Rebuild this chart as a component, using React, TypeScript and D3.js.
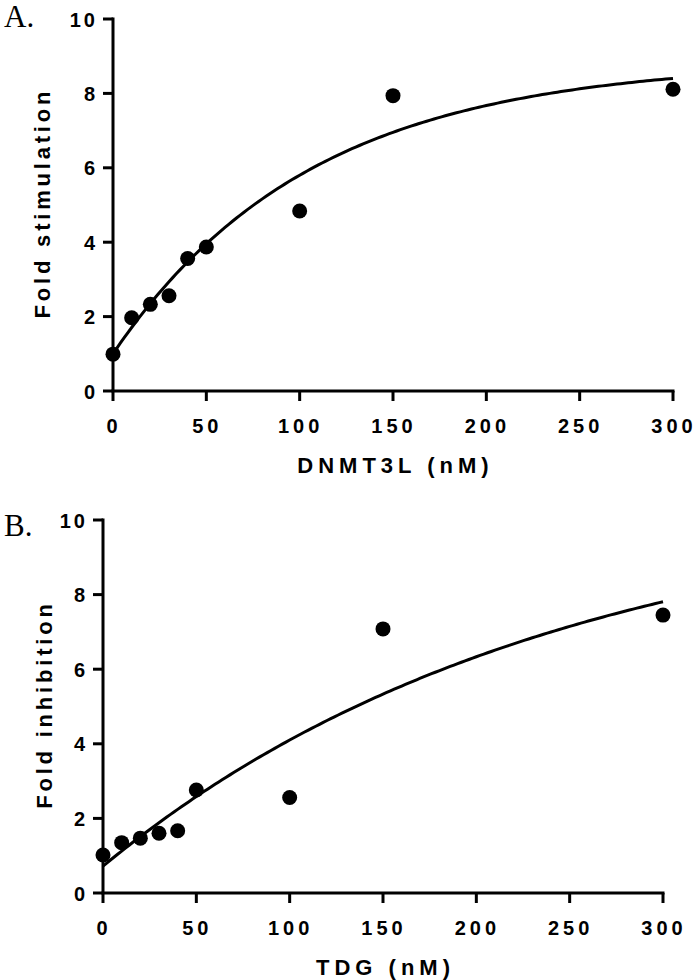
import React from 'react';
import * as d3 from 'd3';

// concentrations (nM)
const doseA = [0, 10, 20, 30, 40, 50, 100, 150, 300];
const stimulation = [0.99, 1.97, 2.33, 2.56, 3.56, 3.87, 4.84, 7.94, 8.11];

const doseB = [0, 10, 20, 30, 40, 50, 100, 150, 300];
const inhibition = [1.02, 1.35, 1.47, 1.6, 1.67, 2.76, 2.56, 7.08, 7.45];

const xTicks = [0, 50, 100, 150, 200, 250, 300];
const yTicks = [0, 2, 4, 6, 8, 10];

// one-phase association fit: y = y0 + span * (1 - exp(-k x))
const fitA = { y0: 1.0, span: 7.87, k: 0.009417 };
const fitB = { y0: 0.72, span: 9.96, k: 0.004146 };

const FONT = '"Liberation Sans", Arial, sans-serif';

type PanelProps = {
  tag: string;
  xLabel: string;
  yLabel: string;
  xs: number[];
  ys: number[];
  fit: { y0: number; span: number; k: number };
  left: number;
  right: number;
  top: number;
  bottom: number;
  tagY: number;
  yLabelX: number;
};

function Panel(props: PanelProps) {
  const { tag, xLabel, yLabel, xs, ys, fit, left, right, top, bottom, tagY, yLabelX } = props;
  const x = d3.scaleLinear().domain([0, 300]).range([left, right]);
  const y = d3.scaleLinear().domain([0, 10]).range([bottom, top]);

  const curveX = d3.range(0, 300.01, 2);
  const line = d3
    .line<number>()
    .x(d => x(d))
    .y(d => y(fit.y0 + fit.span * (1 - Math.exp(-fit.k * d))));

  const tickLen = 10;
  // digit width of bold 20px font plus 4px gaps between digits
  const labelWidth = (t: number) => {
    const n = String(t).length;
    return 11.12 * n + 4 * (n - 1);
  };

  return (
    <g>
      <text x={4} y={tagY} fontFamily='"Liberation Serif", "Times New Roman", serif' fontSize={31}>
        {tag}
      </text>

      {/* axes */}
      <line x1={left} x2={left} y1={top - 1.5} y2={bottom} stroke="#000" strokeWidth={3} />
      <line x1={left - 1.5} x2={right + 1.5} y1={bottom} y2={bottom} stroke="#000" strokeWidth={3} />

      {yTicks.map(t => (
        <g key={'y' + t}>
          <line x1={left - tickLen} x2={left} y1={y(t)} y2={y(t)} stroke="#000" strokeWidth={3} />
          <text
            x={left - 18 + 3}
            y={y(t) + 7.5}
            textAnchor="end"
            fontFamily={FONT}
            fontWeight="bold"
            fontSize={20}
            style={{ letterSpacing: '3px' }}
          >
            {t}
          </text>
        </g>
      ))}

      {xTicks.map(t => (
        <g key={'x' + t}>
          <line x1={x(t)} x2={x(t)} y1={bottom} y2={bottom + tickLen} stroke="#000" strokeWidth={3} />
          <text
            x={x(t) - 1 - labelWidth(t) / 2}
            y={bottom + 42}
            textLength={labelWidth(t)}
            lengthAdjust="spacing"
            fontFamily={FONT}
            fontWeight="bold"
            fontSize={20}
          >
            {t}
          </text>
        </g>
      ))}

      <text
        x={(left + right) / 2 + 2.5}
        y={bottom + 82}
        textAnchor="middle"
        fontFamily={FONT}
        fontWeight="bold"
        fontSize={22}
        style={{ letterSpacing: '5px' }}
      >
        {xLabel}
      </text>

      <text
        transform={`translate(${yLabelX},${(top + bottom) / 2}) rotate(-90)`}
        x={1.9}
        textAnchor="middle"
        fontFamily={FONT}
        fontWeight="bold"
        fontSize={22}
        style={{ letterSpacing: '3.8px' }}
      >
        {yLabel}
      </text>

      <path d={line(curveX) || ''} fill="none" stroke="#000" strokeWidth={3} />

      {xs.map((d, i) => (
        <circle key={i} cx={x(d)} cy={y(ys[i])} r={7.5} fill="#000" />
      ))}
    </g>
  );
}

export default function App() {
  return (
    <svg
      width={693}
      height={980}
      style={{ position: 'absolute', left: 0, top: 0, background: '#fff' }}
    >
      <rect width={693} height={980} fill="#fff" />
      <Panel
        tag="A."
        xLabel="DNMT3L (nM)"
        yLabel="Fold stimulation"
        xs={doseA}
        ys={stimulation}
        fit={fitA}
        left={113}
        right={673}
        top={19}
        bottom={391}
        tagY={27}
        yLabelX={50}
      />
      <Panel
        tag="B."
        xLabel="TDG (nM)"
        yLabel="Fold inhibition"
        xs={doseB}
        ys={inhibition}
        fit={fitB}
        left={103}
        right={663}
        top={520}
        bottom={893}
        tagY={536}
        yLabelX={52}
      />
    </svg>
  );
}
